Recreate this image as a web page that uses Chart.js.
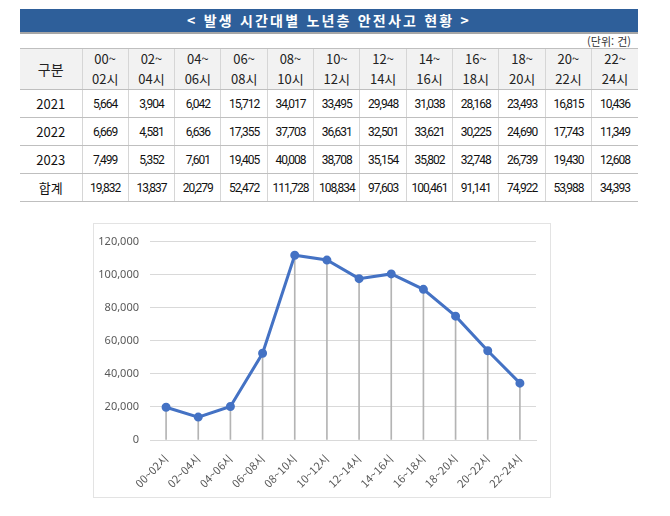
<!DOCTYPE html>
<html lang="ko">
<head>
<meta charset="utf-8">
<script src="https://cdn.jsdelivr.net/npm/chart.js@4.4.1/dist/chart.umd.min.js"></script>
<style>
  html, body { margin: 0; padding: 0; background: #fff; }
  body { width: 670px; height: 516px; position: relative; overflow: hidden;
         font-family: "Noto Sans CJK KR", "Noto Sans", sans-serif; color: #222; }
  .title { position: absolute; left: 20px; top: 9px; width: 618px; height: 23px;
           background: #2e5f9a; border-bottom: 2px solid #a6a6a6; color: #fff;
           font-weight: bold; font-size: 14px; letter-spacing: 2.2px;
           line-height: 23px; text-align: center; }
  .unit { position: absolute; right: 39px; top: 33px; font-size: 11px; color: #333; }
  table { position: absolute; left: 20px; top: 48px; width: 618px;
          border-collapse: collapse; table-layout: fixed; }
  th, td { text-align: center; padding: 0; border-left: 1px solid #d6d6d6;
           border-bottom: 1px solid #bfbfbf; }
  th:first-child, td:first-child { border-left: none; }
  thead th { background: #f2f2f2; font-weight: normal; font-size: 13px;
             height: 39px; line-height: 20px; border-top: 1px solid #bfbfbf; }
  thead th.first { font-size: 14px; }
  tbody td { height: 27px; font-family: Roboto, "Noto Sans", sans-serif;
             font-size: 12px; letter-spacing: -1px; color: #111; }
  tbody td.first { font-family: "Noto Sans CJK KR", sans-serif; font-size: 13px; letter-spacing: 0; }
  .box { position: absolute; left: 93px; top: 223px; width: 456px; height: 273px;
         border: 1px solid #e3e3e3; }
</style>
</head>
<body>
<div class="title">&lt; 발생 시간대별 노년층 안전사고 현황 &gt;</div>
<div class="unit">(단위: 건)</div>
<table id="tbl"></table>
<div class="box"><canvas id="chart" width="456" height="273"></canvas></div>
<script>
const timeSlots = ['00~02시', '02~04시', '04~06시', '06~08시', '08~10시', '10~12시',
  '12~14시', '14~16시', '16~18시', '18~20시', '20~22시', '22~24시']
const rowLabels = ['2021', '2022', '2023', '합계']
const year2021 = [5664, 3904, 6042, 15712, 34017, 33495, 29948, 31038, 28168, 23493, 16815, 10436]
const year2022 = [6669, 4581, 6636, 17355, 37703, 36631, 32501, 33621, 30225, 24690, 17743, 11349]
const year2023 = [7499, 5352, 7601, 19405, 40008, 38708, 35154, 35802, 32748, 26739, 19430, 12608]
const totals = [19832, 13837, 20279, 52472, 111728, 108834, 97603, 100461, 91141, 74922, 53988, 34393]

const fmt = n => n.toLocaleString('en-US')

// table
const tbl = document.getElementById('tbl')
let html = '<colgroup><col style="width:62px">' + timeSlots.map(() => '<col>').join('') + '</colgroup>'
html += '<thead><tr><th class="first">구분</th>' + timeSlots.map(s => {
  const [a, b] = s.split('~')
  return `<th>${a}~<br>${b}</th>`
}).join('') + '</tr></thead><tbody>'
;[year2021, year2022, year2023, totals].forEach((row, i) => {
  html += `<tr><td class="first">${rowLabels[i]}</td>` + row.map(v => `<td>${fmt(v)}</td>`).join('') + '</tr>'
})
tbl.innerHTML = html + '</tbody>'

// chart
const ctx = document.getElementById('chart').getContext('2d')
new Chart(ctx, {
  type: 'bar',
  data: {
    labels: timeSlots,
    datasets: [
      // total line
      {
        type: 'line',
        data: totals,
        borderColor: '#4472c4',
        borderWidth: 3,
        pointRadius: 3,
        pointBackgroundColor: '#4472c4',
        pointBorderColor: '#4472c4',
        tension: 0,
        order: 0
      },
      // drop lines
      {
        data: totals,
        backgroundColor: '#b4b4b4',
        barThickness: 1,
        order: 1
      }
    ]
  },
  options: {
    animation: false,
    responsive: false,
    layout: { padding: { top: 10, right: 14, left: 0, bottom: 0 } },
    scales: {
      x: {
        grid: { display: false, drawTicks: false },
        border: { color: '#d9d9d9' },
        ticks: {
          color: '#595959',
          font: { family: 'Noto Sans CJK KR', size: 11 },
          minRotation: 45,
          maxRotation: 45,
          padding: 12
        },
        afterFit: scale => { scale.height = 57 }
      },
      y: {
        min: 0,
        max: 120000,
        grid: { color: '#d9d9d9', drawTicks: false },
        border: { display: false },
        ticks: {
          stepSize: 20000,
          color: '#595959',
          font: { family: 'Noto Sans', size: 11 },
          padding: 11,
          callback: v => fmt(v)
        },
        afterFit: scale => { scale.width = 56 }
      }
    },
    plugins: {
      legend: { display: false },
      tooltip: { enabled: false }
    }
  }
})
</script>
</body>
</html>
